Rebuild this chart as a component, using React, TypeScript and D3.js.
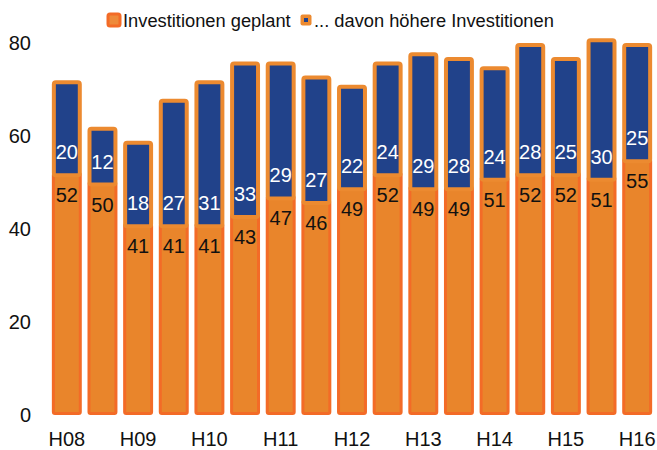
import React from "react";
import * as d3 from "d3";

const categories = ["H08","F09","H09","F10","H10","F11","H11","F12","H12","F13","H13","F14","H14","F15","H15","F16","H16"];
const tickLabels = ["H08","H09","H10","H11","H12","H13","H14","H15","H16"];
const planned = [52,50,41,41,41,43,47,46,49,52,49,49,51,52,52,51,55];
const higher = [20,12,18,27,31,33,29,27,22,24,29,28,24,28,25,30,25];
const yTicks = [0,20,40,60,80];

const W = 657, H = 450;
const ORANGE = "#E9852B";
const ORANGE_DARK = "#F36B27";
const ORANGE_LIGHT = "#EC8A30";
const BLUE = "#21428A";
const FONT = "'Liberation Sans', Arial, sans-serif";

export default function App() {
  const x = d3.scaleBand<string>().domain(categories).range([49, 655]).paddingInner(0.16).paddingOuter(0.08);
  const y = d3.scaleLinear().domain([0, 80]).range([415, 43]);
  const bw = x.bandwidth();
  return (
    <svg width={W} height={H} style={{ position: "absolute", left: 0, top: 0 }} fontFamily={FONT}>
      <rect x={0} y={0} width={W} height={H} fill="#fff" />
      {/* legend */}
      <g>
        <rect x={108} y={14} width={12} height={12} rx={2} fill="#EE8A3A" stroke={ORANGE_DARK} strokeWidth={3} />
        <text x={123} y={27} fontSize={18.3} fill="#111">Investitionen geplant</text>
        <rect x={300.5} y={14.5} width={11} height={11} rx={2} fill={ORANGE_LIGHT} />
        <rect x={304} y={18} width={4} height={4} fill={BLUE} />
        <text x={314} y={27} fontSize={18.3} fill="#111">... davon höhere Investitionen</text>
      </g>
      {/* y axis labels */}
      {yTicks.map((t) => (
        <text key={t} x={31} y={y(t)} fontSize={20} textAnchor="end" dominantBaseline="central" fill="#111">{t}</text>
      ))}
      {/* bars */}
      {categories.map((c, i) => {
        const x0 = x(c)!;
        const p = planned[i];
        const h = higher[i];
        return (
          <g key={c}>
            <rect x={x0 + 1.5} y={y(p)} width={bw - 3} height={y(0) - y(p) - 1.5} fill={ORANGE} stroke={ORANGE_DARK} strokeWidth={3} rx={1.5} />
            <rect x={x0 + 2} y={y(p + h) + 2} width={bw - 4} height={y(p) - y(p + h)} fill={BLUE} stroke={ORANGE_LIGHT} strokeWidth={4} rx={2} />
            <text x={x0 + bw / 2} y={y(p) + 22} fontSize={20} textAnchor="middle" dominantBaseline="central" fill="#111">{p}</text>
            <text x={x0 + bw / 2} y={y(p) - 21} fontSize={20} textAnchor="middle" dominantBaseline="central" fill="#fff">{h}</text>
          </g>
        );
      })}
      {/* x labels */}
      {categories.map((c) => tickLabels.includes(c) ? (
        <text key={c} x={x(c)! + bw / 2} y={439} fontSize={20} textAnchor="middle" dominantBaseline="central" fill="#111">{c}</text>
      ) : null)}
    </svg>
  );
}
